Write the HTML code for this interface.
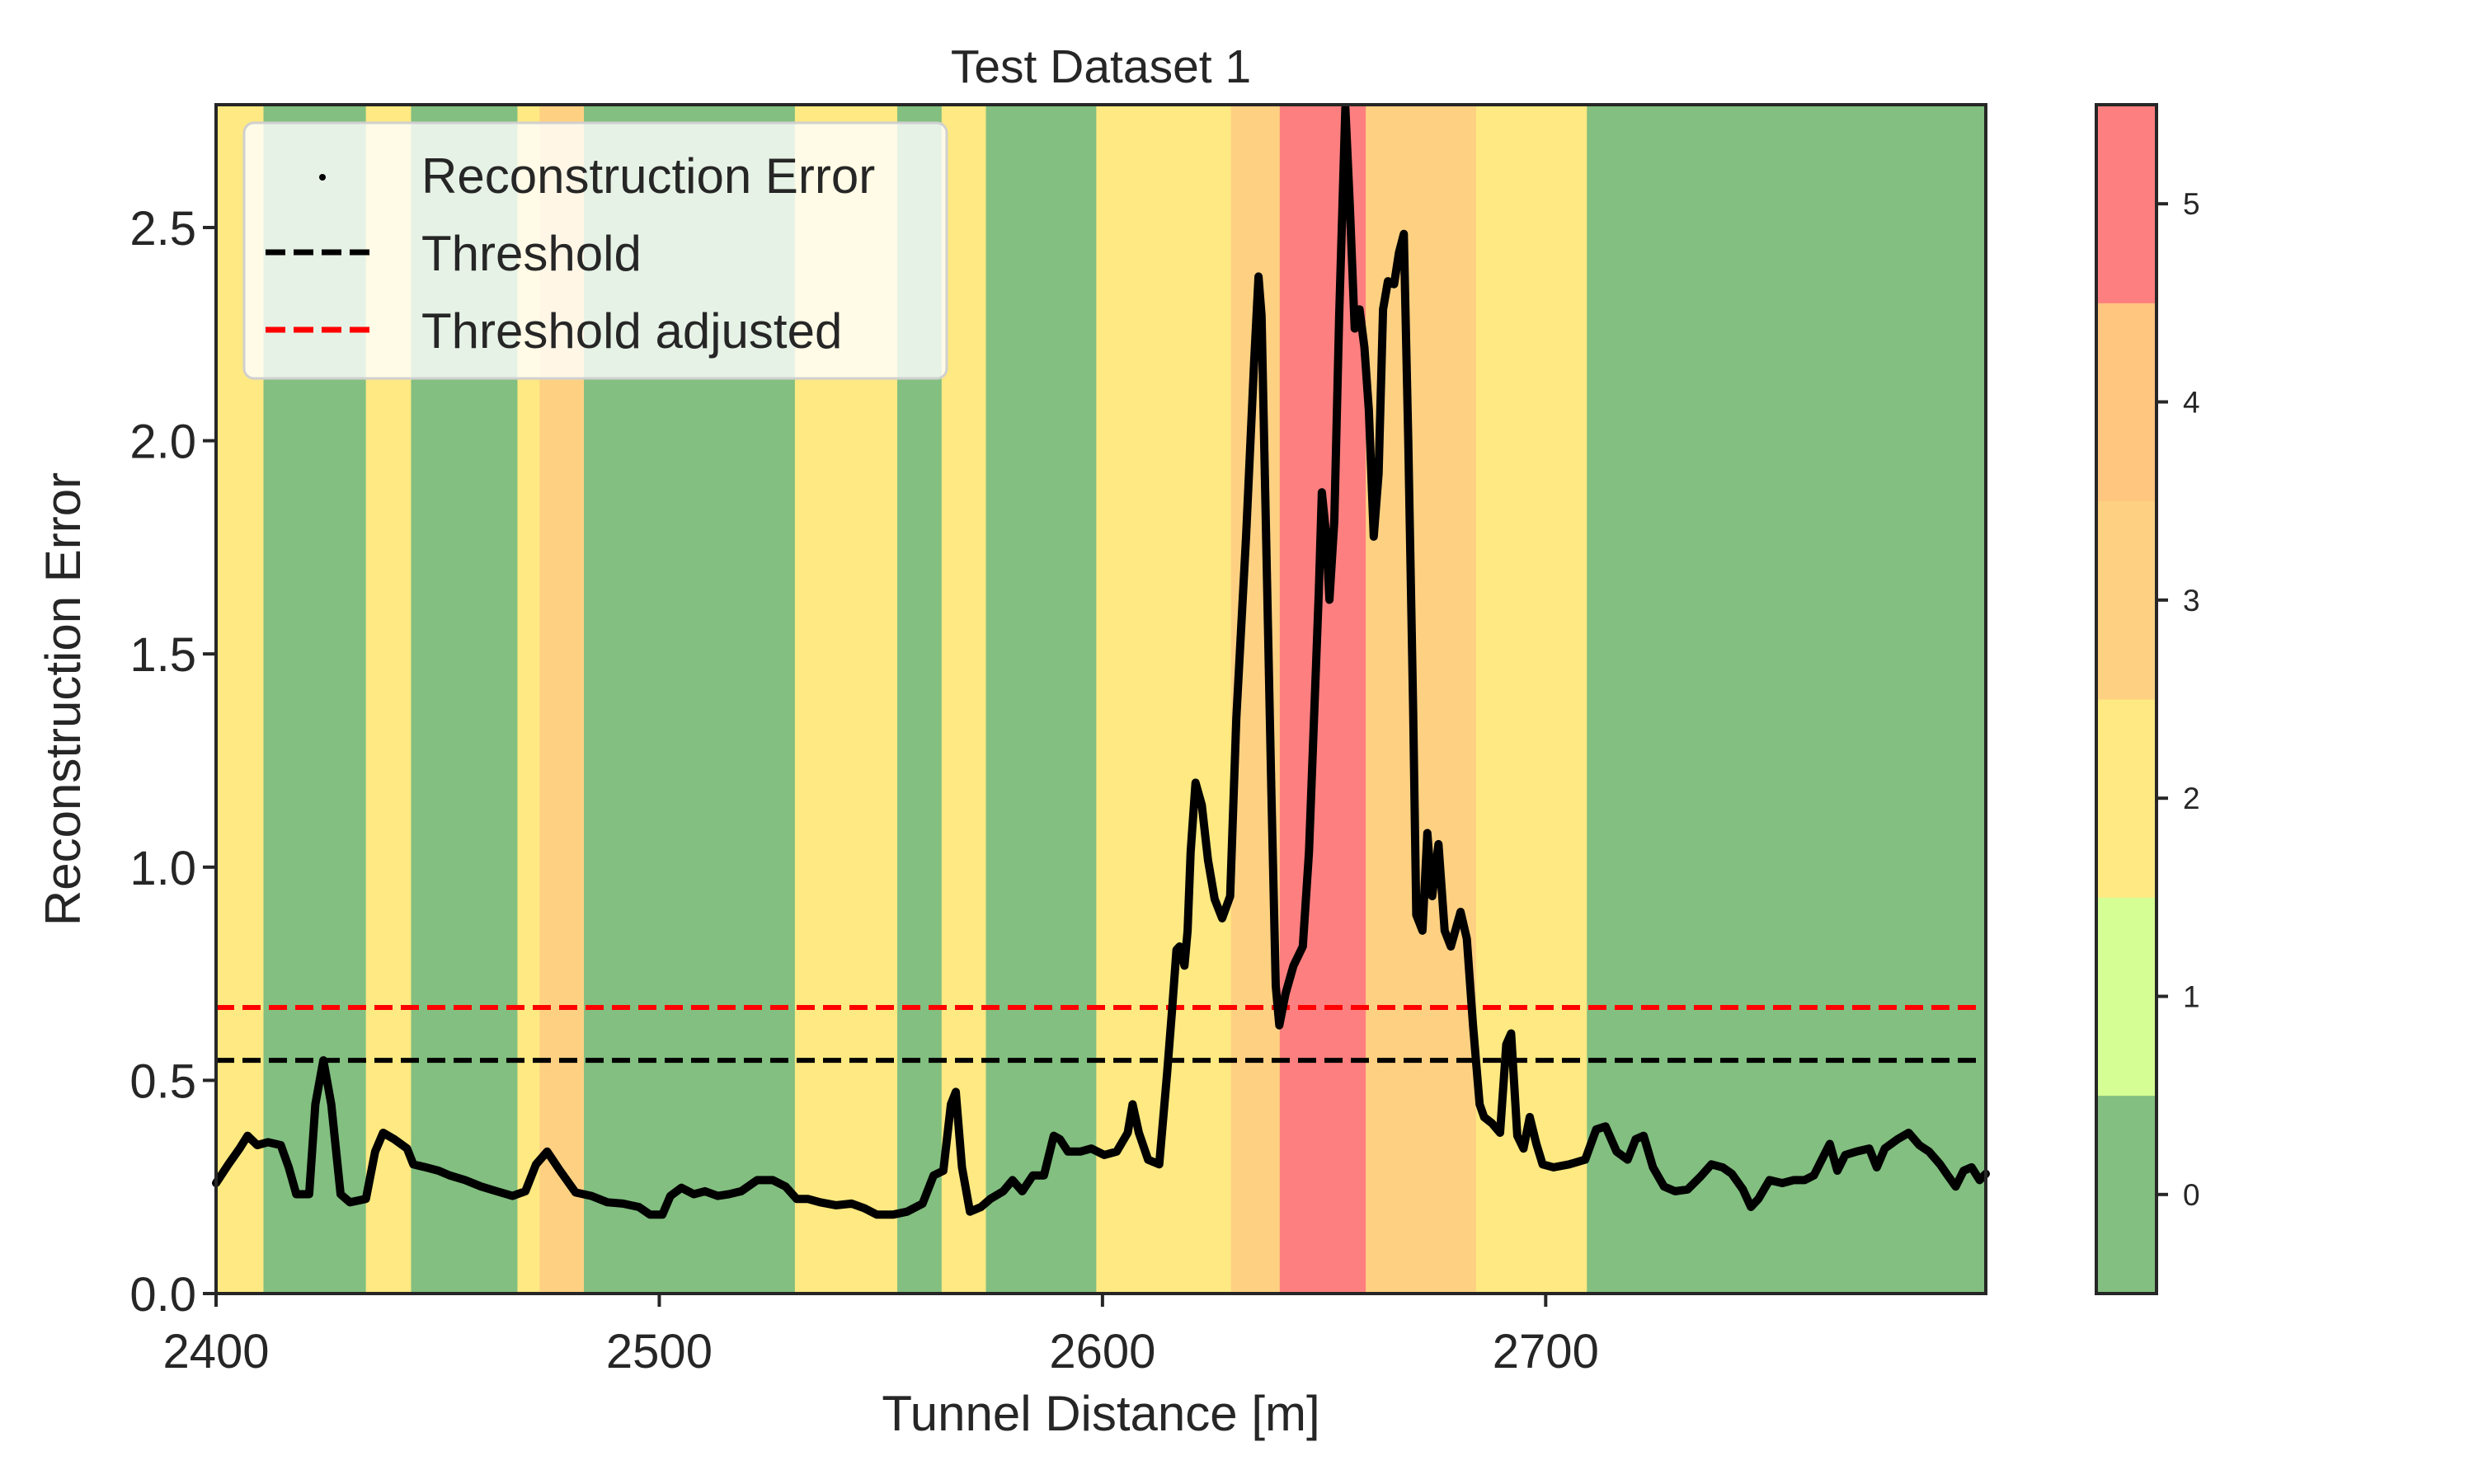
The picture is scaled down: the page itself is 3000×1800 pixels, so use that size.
<!DOCTYPE html>
<html><head><meta charset="utf-8"><style>
html,body{margin:0;padding:0;background:#fff;}
svg{display:block;font-family:"Liberation Sans",sans-serif;}
</style></head><body>
<svg id="chart" width="3000" height="1800" viewBox="0 0 3000 1800" xmlns="http://www.w3.org/2000/svg">
<g id="bands"></g>
<g id="thr"></g>
<g id="series"></g>
<rect x="262" y="127" width="2146" height="1442" fill="none" stroke="#262626" stroke-width="4"/>
<g id="xticks"></g>
<g id="yticks"></g>
<text x="1335" y="100" font-size="57" fill="#262626" text-anchor="middle">Test Dataset 1</text>
<text x="1335" y="1735" font-size="60" fill="#262626" text-anchor="middle">Tunnel Distance [m]</text>
<text transform="translate(97,848) rotate(-90)" font-size="60" fill="#262626" text-anchor="middle">Reconstruction Error</text>
<g>
<rect x="296" y="149" width="852" height="310" rx="12" fill="#fff" fill-opacity="0.8" stroke="#d0d0d0" stroke-width="3"/>
<circle cx="391" cy="215" r="4" fill="#000"/>
<text x="511" y="234" font-size="60" fill="#262626">Reconstruction Error</text>
<line x1="322" y1="306" x2="452" y2="306" stroke="#000" stroke-width="7" stroke-dasharray="24,10"/>
<text x="511" y="328" font-size="60" fill="#262626">Threshold</text>
<line x1="322" y1="400" x2="452" y2="400" stroke="#ff0000" stroke-width="7" stroke-dasharray="24,10"/>
<text x="511" y="422" font-size="60" fill="#262626">Threshold adjusted</text>
</g>
<g id="cbar"></g>
</svg>
<script>
const bandEdges=[2400,2410.7,2433.8,2444,2468,2473,2483,2530.6,2553.7,2563.7,2573.7,2598.6,2629,2640,2659.4,2684.3,2709.3,2799.3];
const bandClasses=[2,0,2,0,2,3,0,2,0,2,0,2,3,5,3,2,0];
const classColors=["#82bf80","#d5fe95","#fee982","#fed182","#fec67f","#fe7f7f"];
const colorbarTicks=[0,1,2,3,4,5];
const xTicks=[2400,2500,2600,2700];
const yTicks=[0.0,0.5,1.0,1.5,2.0,2.5];
const threshold=0.547;
const thresholdAdjusted=0.671;
const distance=[2400.0,2402.8,2405.3,2407.1,2409.3,2411.7,2414.6,2416.4,2418.1,2421.0,2422.4,2424.2,2426.0,2428.1,2430.2,2433.8,2435.9,2437.7,2440.2,2443.1,2444.5,2447.3,2450.2,2452.7,2456.2,2459.8,2463.3,2466.9,2469.8,2472.2,2474.7,2477.6,2481.1,2484.7,2488.3,2491.8,2495.4,2497.9,2500.7,2502.5,2505.0,2507.8,2510.3,2513.2,2515.7,2518.5,2522.1,2525.6,2528.5,2531.0,2533.5,2536.3,2539.9,2543.4,2546.3,2549.1,2552.7,2555.9,2559.4,2561.9,2564.1,2565.8,2566.9,2568.3,2570.1,2572.6,2574.7,2577.6,2579.7,2581.9,2584.3,2586.8,2589.0,2590.4,2592.2,2595.0,2597.5,2600.4,2603.2,2605.7,2606.8,2608.2,2610.3,2612.8,2614.6,2615.7,2616.7,2617.4,2618.5,2619.2,2619.9,2621.0,2622.4,2623.8,2625.3,2627.0,2628.8,2630.2,2632.4,2634.2,2635.2,2635.9,2637.0,2638.1,2639.1,2639.9,2641.3,2643.1,2645.2,2646.6,2648.8,2649.5,2650.5,2651.2,2652.3,2653.4,2654.8,2655.8,2656.9,2658.0,2659.1,2660.1,2661.2,2662.3,2663.3,2664.4,2665.8,2666.9,2668.0,2669.0,2670.1,2670.8,2672.2,2673.3,2674.4,2675.8,2677.2,2678.6,2680.8,2682.2,2683.6,2685.1,2686.1,2687.9,2689.7,2691.1,2692.2,2693.6,2695.0,2696.4,2697.9,2699.3,2701.8,2705.3,2708.9,2711.4,2713.5,2716.0,2718.5,2720.3,2722.1,2724.2,2726.7,2729.2,2732.0,2734.9,2737.4,2739.9,2742.0,2744.5,2746.3,2748.0,2750.5,2753.4,2755.9,2758.4,2760.5,2762.3,2764.1,2765.8,2767.6,2770.1,2773.0,2774.7,2776.5,2779.4,2781.9,2784.3,2786.5,2789.0,2790.7,2792.5,2794.3,2796.1,2797.9,2799.3];
const recError=[0.259,0.303,0.340,0.370,0.348,0.355,0.348,0.296,0.233,0.233,0.444,0.547,0.444,0.233,0.214,0.222,0.333,0.377,0.362,0.340,0.303,0.296,0.288,0.277,0.266,0.251,0.240,0.229,0.240,0.303,0.333,0.288,0.237,0.229,0.214,0.211,0.203,0.185,0.185,0.229,0.248,0.233,0.240,0.229,0.233,0.240,0.266,0.266,0.251,0.222,0.222,0.214,0.207,0.211,0.200,0.185,0.185,0.192,0.211,0.277,0.288,0.444,0.473,0.296,0.192,0.203,0.222,0.240,0.266,0.240,0.277,0.277,0.370,0.362,0.333,0.333,0.340,0.325,0.333,0.377,0.444,0.377,0.314,0.303,0.518,0.666,0.806,0.814,0.769,0.851,1.036,1.198,1.146,1.017,0.925,0.880,0.932,1.350,1.775,2.182,2.385,2.293,1.738,1.183,0.721,0.629,0.703,0.769,0.814,1.036,1.646,1.879,1.775,1.627,1.812,2.293,2.781,2.552,2.263,2.308,2.219,2.071,1.775,1.923,2.308,2.374,2.367,2.441,2.485,1.997,1.368,0.888,0.851,1.080,0.932,1.054,0.851,0.814,0.895,0.832,0.629,0.444,0.414,0.399,0.377,0.584,0.610,0.370,0.340,0.414,0.351,0.303,0.296,0.303,0.314,0.385,0.392,0.333,0.314,0.362,0.370,0.296,0.251,0.240,0.244,0.274,0.303,0.296,0.281,0.244,0.203,0.222,0.266,0.259,0.266,0.266,0.277,0.314,0.351,0.288,0.325,0.333,0.340,0.296,0.340,0.362,0.377,0.348,0.333,0.303,0.277,0.251,0.288,0.296,0.266,0.281];

const NS="http://www.w3.org/2000/svg";
const X0=262,X1=2408,Y0=1569,Y1=127,XMIN=2400,XMAX=2799.3,YMIN=0,YMAX=2.788;
const sx=v=>X0+(v-XMIN)/(XMAX-XMIN)*(X1-X0);
const sy=v=>Y0-(v-YMIN)/(YMAX-YMIN)*(Y0-Y1);
function mk(tag,attrs,parent){const e=document.createElementNS(NS,tag);for(const k in attrs)e.setAttribute(k,attrs[k]);parent.appendChild(e);return e;}

const bandsG=document.getElementById('bands');
for(let i=0;i<bandClasses.length;i++){
  const a=sx(bandEdges[i]),b=sx(bandEdges[i+1]);
  const r=mk('rect',{x:a,y:Y1,width:b-a+0.5,height:Y0-Y1,fill:classColors[bandClasses[i]]},bandsG);
  
  
}
const thrG=document.getElementById('thr');
const t1=mk('line',{x1:X0,x2:X1,y1:sy(threshold),y2:sy(threshold),stroke:'#000','stroke-width':6,'stroke-dasharray':'22,10'},thrG);


const t2=mk('line',{x1:X0,x2:X1,y1:sy(thresholdAdjusted),y2:sy(thresholdAdjusted),stroke:'#ff0000','stroke-width':6,'stroke-dasharray':'22,10'},thrG);



const serG=document.getElementById('series');
const pts=distance.map((d,i)=>sx(d).toFixed(1)+','+sy(recError[i]).toFixed(1)).join(' ');
const pl=mk('polyline',{points:pts,fill:'none',stroke:'#000','stroke-width':10,'stroke-linejoin':'round','stroke-linecap':'round'},serG);



const xg=document.getElementById('xticks');
xTicks.forEach(t=>{
  const x=sx(t);
  const l=mk('line',{x1:x,x2:x,y1:Y0,y2:Y0+16,stroke:'#262626','stroke-width':4},xg);
  
  
  const tx=mk('text',{x:x,y:Y0+90,'font-size':58,fill:'#262626','text-anchor':'middle'},xg);
  tx.textContent=String(t);
  
  
});
const yg=document.getElementById('yticks');
yTicks.forEach(t=>{
  const y=sy(t);
  const l=mk('line',{x1:X0-16,x2:X0,y1:y,y2:y,stroke:'#262626','stroke-width':4},yg);
  
  
  const tx=mk('text',{x:X0-24,y:y+21,'font-size':58,fill:'#262626','text-anchor':'end'},yg);
  tx.textContent=t.toFixed(1);
  
  
});

const cg=document.getElementById('cbar');
const CX0=2542,CX1=2615,CMIN=-0.5,CMAX=5.5;
const cy=v=>Y0-(v-CMIN)/(CMAX-CMIN)*(Y0-Y1);
classColors.forEach((c,i)=>{
  const r=mk('rect',{x:CX0,y:cy(i+0.5),width:CX1-CX0,height:cy(i-0.5)-cy(i+0.5)+0.5,fill:c},cg);
  
  
});
const cf=mk('rect',{x:CX0,y:Y1,width:CX1-CX0,height:Y0-Y1,fill:'none',stroke:'#262626','stroke-width':4},cg);


colorbarTicks.forEach(t=>{
  const y=cy(t);
  const l=mk('line',{x1:CX1,x2:CX1+14,y1:y,y2:y,stroke:'#262626','stroke-width':4},cg);
  
  
  const tx=mk('text',{x:CX1+32,y:y+13,'font-size':37,fill:'#262626'},cg);
  tx.textContent=String(t);
  
  
});
</script>
</body></html>
